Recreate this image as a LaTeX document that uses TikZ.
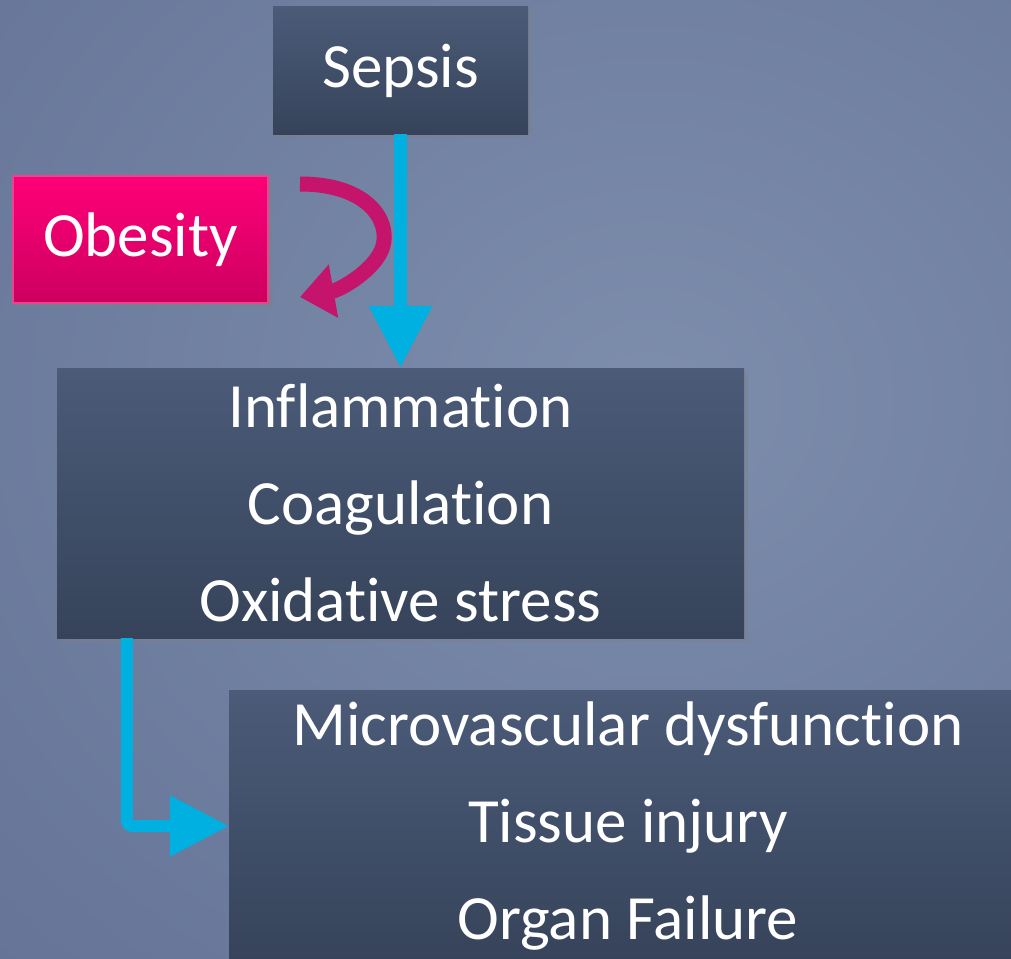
\documentclass[tikz,border=0pt]{standalone}
\usepackage{fontspec}
\setmainfont{Carlito}[Ligatures=NoCommon]
\usepackage{xcolor}
\usepackage{tikz}
\usetikzlibrary{arrows.meta}
\usetikzlibrary{shadows}

\definecolor{bglight}{HTML}{7D8DAC}
\definecolor{bgdark}{HTML}{56658A}
\definecolor{boxtop}{HTML}{4B5B78}
\definecolor{boxbot}{HTML}{36435A}
\definecolor{pinktop}{HTML}{FF0078}
\definecolor{pinkbot}{HTML}{CC005F}
\definecolor{pinkedge}{HTML}{E8458F}
\definecolor{cyanarr}{HTML}{00B0E0}
\definecolor{magarr}{HTML}{C4146C}

\begin{document}
\begin{tikzpicture}[x=1pt,y=-1pt,
    bigtext/.style={text=white,align=center,inner sep=0pt,font=\fontsize{63}{97}\selectfont},
    darkbox/.style={bigtext,top color=boxtop,bottom color=boxbot,
      drop shadow={shadow xshift=4pt,shadow yshift=-4pt,opacity=0.35}},
    pinkbox/.style={bigtext,top color=pinktop,bottom color=pinkbot,draw=pinkedge,line width=1.2pt,
      drop shadow={shadow xshift=4pt,shadow yshift=-4pt,opacity=0.35}},
    cyanarrow/.style={draw=cyanarr,line width=13pt,-{Triangle[length=62pt,width=60pt]}},
    magarrow/.style={draw=magarr,line width=15pt,-{Triangle[length=34pt,width=52pt]}}]
    % background
    \useasboundingbox (0,0) rectangle (1011,958);
    \shade[inner color=bglight,outer color=bgdark] (-850,-900) rectangle (2150,1700);
    % boxes
    \node[darkbox,minimum width=255pt,minimum height=127pt] (sepsis) at (400.5,70.5) {Sepsis};
    \node[pinkbox,minimum width=255pt,minimum height=127pt] (obesity) at (140.5,239.5) {Obesity};
    \node[darkbox,minimum width=687pt,minimum height=270pt] (mid) at (400.5,503) {Inflammation\\Coagulation\\Oxidative stress};
    \node[darkbox,minimum width=798pt,minimum height=272pt] (bot) at (628,826) {Microvascular dysfunction\\Tissue injury\\Organ Failure};
    % arrows
    \draw[cyanarrow] (sepsis.south) -- (mid.north);
    \draw[cyanarrow,line width=12pt,rounded corners=6pt,-{Triangle[length=59pt,width=58pt]}]
      ([xshift=70pt]mid.south west) |- (bot.west);
    \coordinate (curvestart) at (300,184);
    \coordinate (curveend) at (300,297);
    \draw[magarrow] (curvestart) .. controls (367,184) and (390,220) .. (383,246)
      .. controls (376,270) and (340,290) .. (curveend);
\end{tikzpicture}
\end{document}
